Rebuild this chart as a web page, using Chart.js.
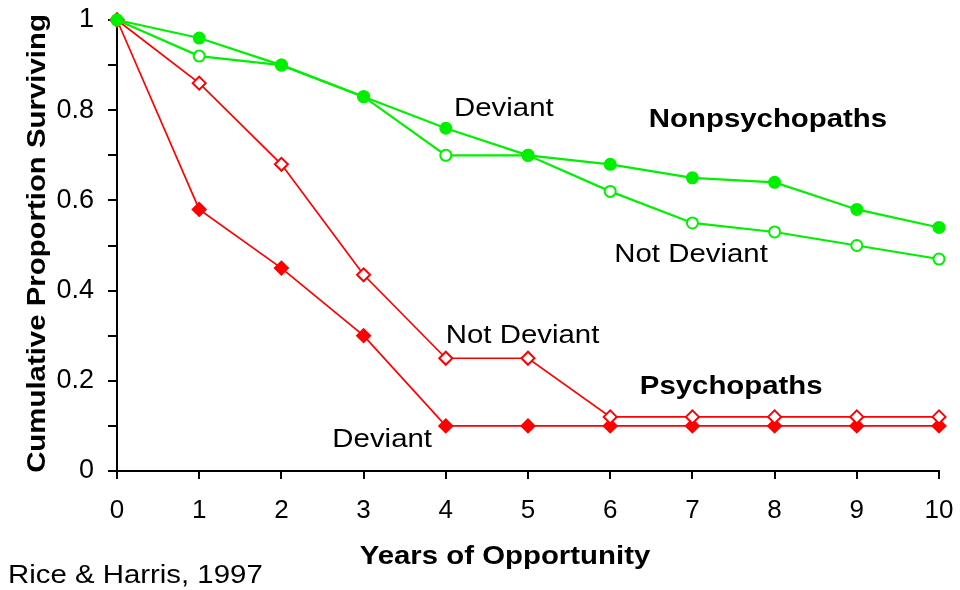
<!DOCTYPE html>
<html>
<head>
<meta charset="utf-8">
<script src="https://cdn.jsdelivr.net/npm/chart.js@4"></script>
<style>
  html, body { margin: 0; padding: 0; background: #fff; }
  #wrap { width: 960px; height: 590px; }
</style>
</head>
<body>
<div id="wrap"><canvas id="grafico"></canvas></div>
<script>
const years = ['0', '1', '2', '3', '4', '5', '6', '7', '8', '9', '10'];
const nonpsychDeviant = [1, 0.96, 0.90, 0.83, 0.76, 0.70, 0.68, 0.65, 0.64, 0.58, 0.54];
const nonpsychNotDeviant = [1, 0.92, 0.90, 0.83, 0.70, 0.70, 0.62, 0.55, 0.53, 0.50, 0.47];
const psychNotDeviant = [1, 0.86, 0.68, 0.435, 0.25, 0.25, 0.12, 0.12, 0.12, 0.12, 0.12];
const psychDeviant = [1, 0.58, 0.45, 0.30, 0.10, 0.10, 0.10, 0.10, 0.10, 0.10, 0.10];

const xTitle = 'Years of Opportunity';
const yTitle = 'Cumulative Proportion Surviving';
const source = 'Rice & Harris, 1997';

// labels written inside the plot (data coordinates)
const notes = [
    { text: 'Deviant', x: 4.1, y: 0.803, bold: false },
    { text: 'Nonpsychopaths', x: 6.47, y: 0.778, bold: true },
    { text: 'Not Deviant', x: 6.05, y: 0.48, bold: false },
    { text: 'Not Deviant', x: 4.0, y: 0.30, bold: false },
    { text: 'Psychopaths', x: 6.36, y: 0.187, bold: true },
    { text: 'Deviant', x: 2.62, y: 0.07, bold: false }
];

const GREEN = '#00f000';
const RED = '#ff0000';
const FAMILY = '"Liberation Sans", Arial, sans-serif';
const STRETCH = 1.13;

function escribir(ctx, text, px, py, bold, align, rotate) {
    ctx.save();
    ctx.translate(px, py);
    if (rotate) ctx.rotate(-Math.PI / 2);
    ctx.scale(STRETCH, 1);
    ctx.font = (bold ? 'bold ' : '') + '26px ' + FAMILY;
    ctx.fillStyle = '#000';
    ctx.textAlign = align;
    ctx.textBaseline = 'middle';
    ctx.fillText(text, 0, 0);
    ctx.restore();
}

const textos = {
    id: 'textos',
    afterDraw(chart) {
        const ctx = chart.ctx;
        const x = chart.scales.x;
        const y = chart.scales.y;
        notes.forEach(n => {
            escribir(ctx, n.text, x.getPixelForValue(n.x), y.getPixelForValue(n.y), n.bold, 'left', false);
        });
        escribir(ctx, xTitle, x.getPixelForValue(4.72), chart.height - 33, true, 'center', false);
        escribir(ctx, yTitle, 38, (chart.chartArea.top + chart.chartArea.bottom) / 2 - 2, true, 'center', true);
        escribir(ctx, source, 8, chart.height - 14, false, 'left', false);
    }
};

function sinRelleno(s) {
    s.paddingTop = 0;
    s.paddingBottom = 0;
    s.paddingLeft = 0;
    s.paddingRight = 0;
}

function serie(data, color, style, radius, filled, width) {
    return {
        data: data,
        borderColor: color,
        borderWidth: width,
        backgroundColor: color,
        pointStyle: style,
        pointRadius: radius,
        pointBorderColor: color,
        pointBackgroundColor: filled ? color : '#fff',
        pointBorderWidth: 2,
        tension: 0,
        clip: false
    };
}

new Chart(document.getElementById('grafico'), {
    type: 'line',
    data: {
        labels: years,
        datasets: [
            serie(nonpsychDeviant, GREEN, 'circle', 5.5, true, 2.2),
            serie(nonpsychNotDeviant, GREEN, 'circle', 5.5, false, 2.2),
            serie(psychNotDeviant, RED, 'rectRot', 6.5, false, 1.7),
            serie(psychDeviant, RED, 'rectRot', 6.5, true, 1.7)
        ]
    },
    plugins: [textos],
    options: {
        responsive: true,
        maintainAspectRatio: false,
        animation: false,
        layout: { padding: { left: 0, right: 21, top: 20, bottom: 0 } },
        plugins: {
            legend: { display: false },
            tooltip: { enabled: false }
        },
        scales: {
            x: {
                offset: false,
                afterFit: s => { s.height = 119; sinRelleno(s); },
                border: { color: '#000', width: 2 },
                grid: { drawOnChartArea: false, drawTicks: true, tickLength: 8, color: '#000', lineWidth: 2 },
                ticks: { color: '#000', padding: 16, maxRotation: 0, font: { family: FAMILY, size: 26 } }
            },
            y: {
                min: 0,
                max: 1,
                afterFit: s => { s.width = 117; sinRelleno(s); },
                border: { color: '#000', width: 2 },
                grid: { drawOnChartArea: false, drawTicks: true, tickLength: 9, color: '#000', lineWidth: 2 },
                ticks: {
                    stepSize: 0.1,
                    color: '#000',
                    padding: 14,
                    font: { family: FAMILY, size: 27 },
                    callback: v => {
                        const d = Math.round(v * 10);
                        return d % 2 === 0 ? String(d / 10) : '';
                    }
                }
            }
        }
    }
});
</script>
</body>
</html>
